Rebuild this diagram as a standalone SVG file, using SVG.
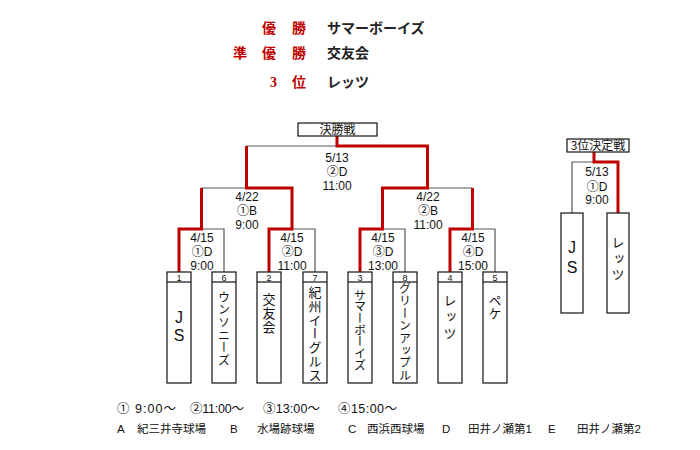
<svg xmlns="http://www.w3.org/2000/svg" width="700" height="450" viewBox="0 0 700 450">
<style>
.t{font-family:"Noto Sans CJK JP",sans-serif;font-weight:700;font-size:14px}
.r{fill:#c00000}
.k{fill:#222}
.lab{font-family:"Liberation Sans","Noto Sans CJK JP",sans-serif;font-size:12px;fill:#111;text-anchor:middle}
.hd{font-family:"Noto Sans CJK JP",sans-serif;font-size:12px;fill:#111;text-anchor:middle}
.num{font-family:"Liberation Sans",sans-serif;font-size:9px;fill:#111;text-anchor:middle}
.box{fill:#fff;stroke:#111;stroke-width:1.2}
.g{fill:none;stroke:#555;stroke-width:1.2}
.red{fill:none;stroke:#c00000;stroke-width:3}
.v{font-family:"Noto Sans CJK JP",sans-serif;font-size:12px;fill:#111;writing-mode:vertical-rl}
.js{font-family:"Liberation Sans",sans-serif;font-size:16px;fill:#111;text-anchor:middle}
.lg{font-family:"Liberation Sans","Noto Sans CJK JP",sans-serif;font-size:11.5px;fill:#111}
.lt{font-family:"Liberation Sans","Noto Sans CJK JP",sans-serif;font-size:12.5px;fill:#111}
</style>

<g id="title">
<text class="t r" x="262" y="33">優</text><text class="t r" x="292" y="33">勝</text>
<text class="t k" x="327" y="33">サマーボーイズ</text>
<text class="t r" x="233" y="58">準</text><text class="t r" x="262" y="58">優</text><text class="t r" x="292" y="58">勝</text>
<text class="t k" x="327" y="58">交友会</text>
<text class="r" x="270" y="87" style="font-family:'Liberation Serif',serif;font-weight:700;font-size:14px">3</text><text class="t r" x="292" y="87">位</text>
<text class="t k" x="327" y="87">レッツ</text>
</g>

<g id="connectors">
<path class="g" d="M179,272V229H224V272M201.5,229V188M269,272V229H315V272M292,229V188M360,272V229H405V272M382.5,229V188M450,272V229H495V272M472.5,229V188M201.5,188H292M246.5,188V146M382.5,188H472.5M427.5,188V146M246.5,146H427.5M337,146V136"/>
<path class="red" d="M179,272V229H201.5V188"/>
<path class="red" d="M269,272V229H292V188H246.5V146"/>
<path class="red" d="M360,272V229H382.5V188H427.5V146H337V136"/>
<path class="red" d="M450,272V229H472.5V188"/>
<path class="g" d="M572,213V162H618"/>
<path class="red" d="M618,213V162H594V152"/>
</g>

<g id="final">
<rect class="box" x="298" y="123" width="79" height="13"/>
<text class="hd" x="337.5" y="134">決勝戦</text>
<text class="lab" x="337" y="162">5/13</text>
<text class="lab" x="337" y="176">②D</text>
<text class="lab" x="337" y="190">11:00</text>
</g>

<g id="semi1">
<text class="lab" x="247" y="201">4/22</text>
<text class="lab" x="247" y="215">①B</text>
<text class="lab" x="247" y="228.5">9:00</text>
</g>
<g id="semi2">
<text class="lab" x="428" y="201">4/22</text>
<text class="lab" x="428" y="215">②B</text>
<text class="lab" x="428" y="228.5">11:00</text>
</g>

<g id="r1m1">
<text class="lab" x="202" y="241.5">4/15</text>
<text class="lab" x="202" y="256">①D</text>
<text class="lab" x="202" y="269.5">9:00</text>
</g>
<g id="r1m2">
<text class="lab" x="292" y="241.5">4/15</text>
<text class="lab" x="292" y="256">②D</text>
<text class="lab" x="292" y="269.5">11:00</text>
</g>
<g id="r1m3">
<text class="lab" x="383" y="241.5">4/15</text>
<text class="lab" x="383" y="256">③D</text>
<text class="lab" x="383" y="269.5">13:00</text>
</g>
<g id="r1m4">
<text class="lab" x="473" y="241.5">4/15</text>
<text class="lab" x="473" y="256">④D</text>
<text class="lab" x="473" y="269.5">15:00</text>
</g>

<g id="team1">
<rect class="box" x="167" y="272" width="24" height="111"/><line class="g" x1="167" y1="282" x2="191" y2="282" style="stroke:#111"/>
<text class="num" x="179" y="280.5">1</text>
<text class="js" x="179" y="323">J</text><text class="js" x="179" y="341">S</text>
</g>
<g id="team6">
<rect class="box" x="212" y="272" width="24" height="111"/><line class="g" x1="212" y1="282" x2="236" y2="282" style="stroke:#111"/>
<text class="num" x="224" y="280.5">6</text>
<text class="v" x="224" y="291" style="letter-spacing:0.7px">ウンソニーズ</text>
</g>
<g id="team2">
<rect class="box" x="257" y="272" width="24" height="111"/><line class="g" x1="257" y1="282" x2="281" y2="282" style="stroke:#111"/>
<text class="num" x="269" y="280.5">2</text>
<text class="v" x="269" y="293" style="font-size:13px;letter-spacing:1px">交友会</text>
</g>
<g id="team7">
<rect class="box" x="303" y="272" width="24" height="111"/><line class="g" x1="303" y1="282" x2="327" y2="282" style="stroke:#111"/>
<text class="num" x="315" y="280.5">7</text>
<text class="v" x="315" y="285.5" style="font-size:13px;letter-spacing:0.8px">紀州イーグルス</text>
</g>
<g id="team3">
<rect class="box" x="348" y="272" width="24" height="111"/><line class="g" x1="348" y1="282" x2="372" y2="282" style="stroke:#111"/>
<text class="num" x="360" y="280.5">3</text>
<text class="v" x="360" y="289" style="letter-spacing:-0.3px">サマーボーイズ</text>
</g>
<g id="team8">
<rect class="box" x="393" y="272" width="24" height="111"/><line class="g" x1="393" y1="282" x2="417" y2="282" style="stroke:#111"/>
<text class="num" x="405" y="280.5">8</text>
<text class="v" x="405" y="282.5" style="letter-spacing:0.4px">グリーンアップル</text>
</g>
<g id="team4">
<rect class="box" x="438" y="272" width="24" height="111"/><line class="g" x1="438" y1="282" x2="462" y2="282" style="stroke:#111"/>
<text class="num" x="450" y="280.5">4</text>
<text class="v" x="450" y="293.5" style="font-size:13px;letter-spacing:3.5px">レッツ</text>
</g>
<g id="team5">
<rect class="box" x="483" y="272" width="24" height="111"/><line class="g" x1="483" y1="282" x2="507" y2="282" style="stroke:#111"/>
<text class="num" x="495" y="280.5">5</text>
<text class="v" x="495" y="293.5" style="font-size:13px">ペケ</text>
</g>

<g id="third">
<rect class="box" x="567" y="139" width="62" height="13"/>
<text class="hd" x="598" y="150">3位決定戦</text>
<text class="lab" x="597" y="176">5/13</text>
<text class="lab" x="597" y="191">①D</text>
<text class="lab" x="597" y="203.5">9:00</text>
</g>
<g id="third-js">
<rect class="box" x="561" y="213" width="22" height="100"/>
<text class="js" x="572" y="253">J</text><text class="js" x="572" y="273">S</text>
</g>
<g id="third-lets">
<rect class="box" x="607" y="213" width="22" height="100"/>
<text class="v" x="618" y="236" style="font-size:13px;letter-spacing:3px">レッツ</text>
</g>

<g id="legend">
<text class="lt" x="117" y="412.5" textLength="59" lengthAdjust="spacing">① 9:00～</text>
<text class="lt" x="190" y="412.5" textLength="54" lengthAdjust="spacing">②11:00～</text>
<text class="lt" x="263" y="412.5" textLength="57" lengthAdjust="spacing">③13:00～</text>
<text class="lt" x="338" y="412.5" textLength="59" lengthAdjust="spacing">④15:00～</text>
<text class="lg" x="117" y="432.5">A</text><text class="lg" x="137" y="432.5">紀三井寺球場</text>
<text class="lg" x="230" y="432.5">B</text><text class="lg" x="257" y="432.5">水場跡球場</text>
<text class="lg" x="348" y="432.5">C</text><text class="lg" x="367" y="432.5">西浜西球場</text>
<text class="lg" x="442" y="432.5">D</text><text class="lg" x="468" y="432.5">田井ノ瀬第1</text>
<text class="lg" x="548" y="432.5">E</text><text class="lg" x="577" y="432.5">田井ノ瀬第2</text>
</g>
</svg>
